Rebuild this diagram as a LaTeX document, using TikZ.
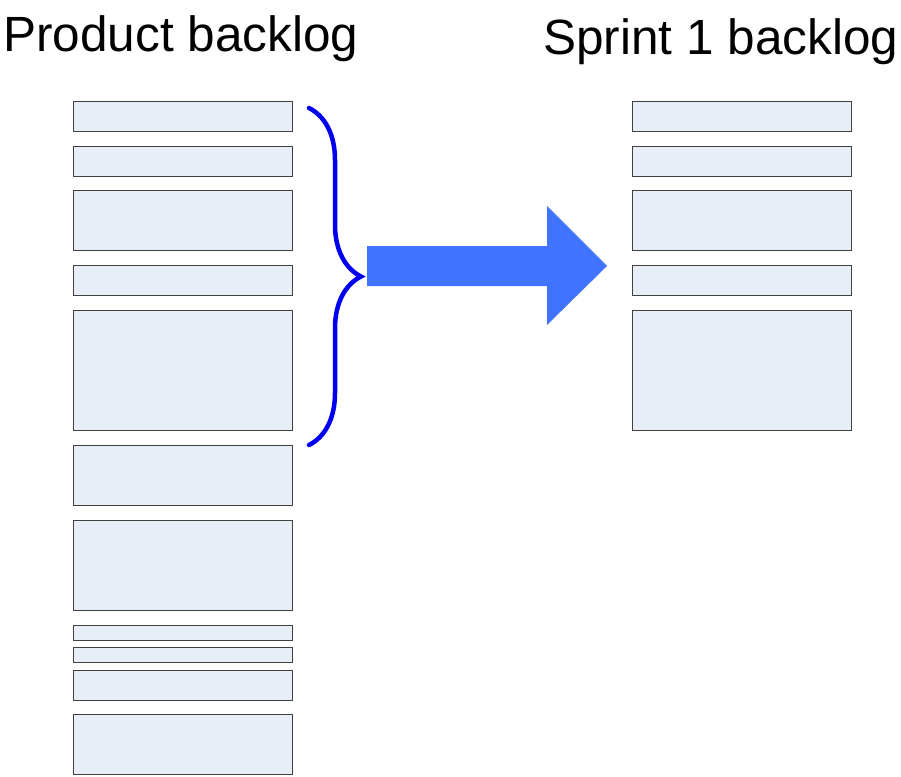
\documentclass[tikz,border=0pt]{standalone}
\usepackage{fontspec}
\setmainfont{Liberation Sans}
\usetikzlibrary{decorations.pathreplacing}
\definecolor{itemfill}{HTML}{E8EEF7}
\definecolor{itemline}{HTML}{404040}
\definecolor{bracecol}{HTML}{0000F0}
\definecolor{arrowcol}{HTML}{4073FF}
\begin{document}
\begin{tikzpicture}[
    x=1pt, y=-1pt,
    item/.style={draw=itemline, fill=itemfill, line width=1pt, inner sep=0pt, anchor=north west, minimum width=219pt},
    title/.style={anchor=base west, inner sep=0pt, font=\fontsize{49.5}{60}\selectfont},
    brace line/.style={draw=bracecol, line width=4.5pt, line cap=round, decorate, decoration={brace, amplitude=52pt}},
    ]
\useasboundingbox (0,0) rectangle (901,776);
\node[title] (ptitle) at (3,52) {Product backlog};
\node[title] (stitle) at (543,55) {Sprint 1 backlog};
\node[item, minimum height=30pt] (p1) at (73,101) {};
\node[item, minimum height=30pt] (p2) at (73,146) {};
\node[item, minimum height=60pt] (p3) at (73,190) {};
\node[item, minimum height=30pt] (p4) at (73,265) {};
\node[item, minimum height=120pt] (p5) at (73,310) {};
\node[item, minimum height=60pt] (p6) at (73,445) {};
\node[item, minimum height=90pt] (p7) at (73,520) {};
\node[item, minimum height=15pt] (p8) at (73,625) {};
\node[item, minimum height=15pt] (p9) at (73,647) {};
\node[item, minimum height=30pt] (p10) at (73,670) {};
\node[item, minimum height=60pt] (p11) at (73,714) {};
\node[item, minimum height=30pt] (s1) at (632,101) {};
\node[item, minimum height=30pt] (s2) at (632,146) {};
\node[item, minimum height=60pt] (s3) at (632,190) {};
\node[item, minimum height=30pt] (s4) at (632,265) {};
\node[item, minimum height=120pt] (s5) at (632,310) {};
\coordinate (btop) at (309,108);
\coordinate (bbot) at (309,445);
\draw[brace line] (btop) -- (bbot);
\fill[arrowcol] (367,246) -- (547,246) -- (547,206) -- (607,266) -- (547,325) -- (547,286) -- (367,286) -- cycle;
\end{tikzpicture}
\end{document}
